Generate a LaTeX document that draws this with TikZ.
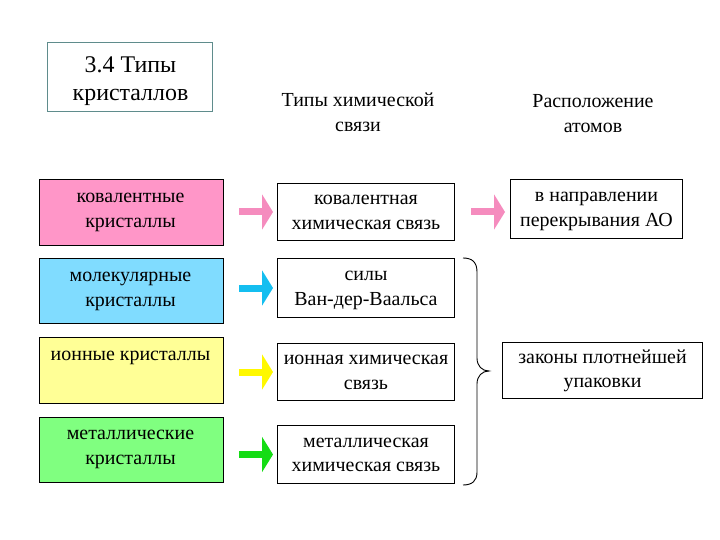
\documentclass[tikz,border=0pt]{standalone}
\usepackage{fontspec}
\setmainfont{Liberation Serif}
\usetikzlibrary{arrows.meta,calc}
\definecolor{pinkF}{RGB}{255,150,200}
\definecolor{cyanF}{RGB}{128,220,255}
\definecolor{yellowF}{RGB}{255,255,150}
\definecolor{greenF}{RGB}{128,255,128}
\definecolor{pinkA}{RGB}{245,140,190}
\definecolor{cyanA}{RGB}{20,190,240}
\definecolor{yellowA}{RGB}{255,248,0}
\definecolor{greenA}{RGB}{20,220,20}
\definecolor{titleB}{RGB}{95,140,140}
\newcommand\twoline[2]{\strut#1\\#2\strut}
\begin{document}
\begin{tikzpicture}[x=1bp,y=-1bp,
  box/.style={draw=black, line width=1bp, rectangle, inner sep=0, anchor=north west},
  txt/.style={align=center, inner sep=0, font=\fontsize{20}{25}\selectfont},
  toptxt/.style={txt, anchor=north},
  hdr/.style={align=center, inner sep=0, font=\fontsize{20}{25}\selectfont},
  arr/.style={draw=#1, line width=7bp, -{Triangle[length=11bp,width=35bp]}}
]
\useasboundingbox (0,0) rectangle (720,540);
% title
\node[box, draw=titleB, minimum width=165bp, minimum height=69bp] (title) at (47,42) {};
\node[align=center, inner sep=0, font=\fontsize{24}{28}\selectfont] (tt) at ($(title.center)+(0.5,4)$)
      {\twoline{3.4 Типы}{кристаллов}};
% headers
\node[hdr] (h1) at (358,114) {\twoline{Типы химической}{связи}};
\node[hdr] (h2) at (593,115) {\twoline{Расположение}{атомов}};
% left crystal boxes
\node[box, fill=pinkF,   minimum width=184bp, minimum height=66bp] (k1) at (39,179) {};
\node[box, fill=cyanF,   minimum width=184bp, minimum height=65bp] (k2) at (39,258) {};
\node[box, fill=yellowF, minimum width=184bp, minimum height=66bp] (k3) at (39,337) {};
\node[box, fill=greenF,  minimum width=184bp, minimum height=65bp] (k4) at (39,417) {};
\node[toptxt] (kt1) at ($(k1.north)+(-1,6)$) {\twoline{ковалентные}{кристаллы}};
\node[toptxt] (kt2) at ($(k2.north)+(-1,6)$) {\twoline{молекулярные}{кристаллы}};
\node[toptxt] (kt3) at ($(k3.north)+(-1,5.5)$) {\strut ионные кристаллы};
\node[toptxt] (kt4) at ($(k4.north)+(-1,5)$) {\twoline{металлические}{кристаллы}};
% middle boxes
\node[box, minimum width=177bp, minimum height=57bp] (m1) at (277,183) {};
\node[box, minimum width=177bp, minimum height=59bp] (m2) at (277,258) {};
\node[box, minimum width=177bp, minimum height=57bp] (m3) at (277,343) {};
\node[box, minimum width=177bp, minimum height=58bp] (m4) at (277,425) {};
\node[txt] (mt1) at (m1.center) {\twoline{ковалентная}{химическая связь}};
\node[txt] (mt2) at (m2.center) {\twoline{силы}{Ван-дер-Ваальса}};
\node[txt] (mt3) at (m3.center) {\twoline{ионная химическая}{связь}};
\node[txt] (mt4) at (m4.center) {\twoline{металлическая}{химическая связь}};
% right boxes
\node[box, minimum width=172bp, minimum height=59bp] (r1) at (510,179) {};
\node[box, minimum width=200bp, minimum height=56bp] (r2) at (502,342) {};
\node[txt] (rt1) at (r1.center) {\twoline{в направлении}{перекрывания АО}};
\node[txt] (rt2) at (r2.center) {\twoline{законы плотнейшей}{упаковки}};
% arrows
\draw[arr=pinkA]   ([xshift=15bp]k1.east |- m1.west) -- ([xshift=-4bp]m1.west);
\draw[arr=cyanA]   ([xshift=15bp]k2.east |- m2.west) -- ([xshift=-4bp]m2.west);
\draw[arr=yellowA] ([xshift=15bp]k3.east |- m3.west) -- ([xshift=-4bp]m3.west);
\draw[arr=greenA]  ([xshift=15bp]k4.east |- m4.west) -- ([xshift=-4bp]m4.west);
\draw[arr=pinkA]   ([xshift=16bp]m1.east) -- ([xshift=-5bp]m1.east -| r1.west);
% brace
\draw[line width=0.9bp] (463,258) .. controls (472,258) and (477,262) .. (477,272)
  -- (477,358) .. controls (477,366) and (482,371) .. (489,371)
  .. controls (482,371) and (477,376) .. (477,384)
  -- (477,472) .. controls (477,481) and (472,485) .. (463,485);
\end{tikzpicture}
\end{document}
